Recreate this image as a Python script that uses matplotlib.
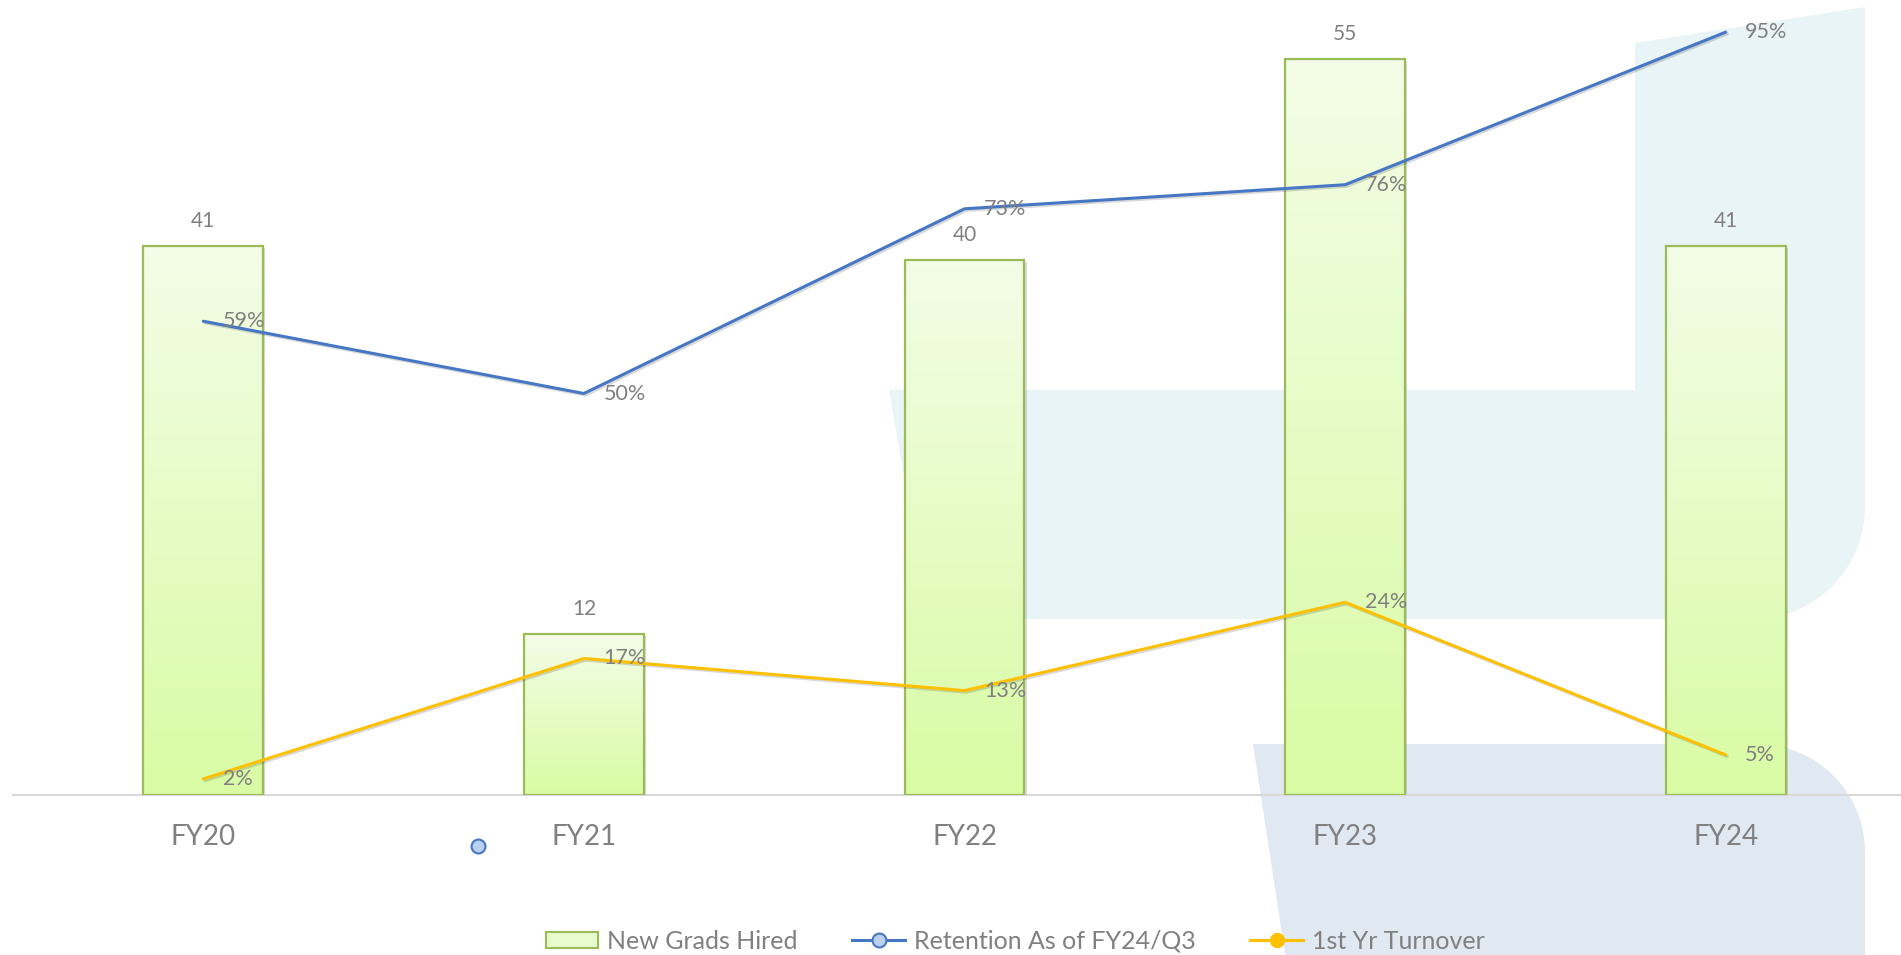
import numpy as np
import matplotlib
matplotlib.use("Agg")
from matplotlib import pyplot as plt
from matplotlib.patches import Polygon, Patch
from matplotlib.lines import Line2D
import matplotlib.patheffects as pe

plt.rcParams['font.family'] = ['Lato', 'DejaVu Sans']

years = ["FY20", "FY21", "FY22", "FY23", "FY24"]
new_grads = [41, 12, 40, 55, 41]
retention = [59, 50, 73, 76, 95]
turnover = [2, 17, 13, 24, 5]

W, H = 1901, 955
GRAY = "#808080"
BLUE = "#4677c4"
GOLD = "#ffc000"

fig = plt.figure(figsize=(W / 100, H / 100), dpi=100)


def to_fig(pts):
    pts = np.asarray(pts, dtype=float)
    return np.column_stack([pts[:, 0] / W, 1 - pts[:, 1] / H])


# faint logo watermark behind the chart
t = np.linspace(0, np.pi / 2, 30)
upper = [(889, 390), (1635, 390), (1635, 43), (1865, 7), (1865, 507)]
upper += list(zip(1753 + 112 * np.cos(t), 507 + 112 * np.sin(t)))
upper += [(929, 619)]
lower = [(1253, 744)]
lower += list(zip(1757 + 108 * np.sin(t), 852 - 108 * np.cos(t)))
lower += [(1865, 960), (1286, 960)]
fig.patches.append(Polygon(to_fig(upper), closed=True, transform=fig.transFigure,
                           facecolor="#e8f4f6", edgecolor="none", zorder=-5))
fig.patches.append(Polygon(to_fig(lower), closed=True, transform=fig.transFigure,
                           facecolor="#e0e8f2", edgecolor="none", zorder=-5))

ax = fig.add_axes([13 / W, 160 / H, 1903 / W, 803 / H])
ax.patch.set_alpha(0)
x = np.arange(len(years))

bars = ax.bar(x, new_grads, width=0.315, color="#d9fba4", edgecolor="none", zorder=2,
              path_effects=[pe.SimplePatchShadow(offset=(1.5, -1.5), shadow_rgbFace="#888888", alpha=0.3),
                            pe.Normal()])
grad = np.linspace(0, 1, 256).reshape(-1, 1)
cmap = matplotlib.colors.LinearSegmentedColormap.from_list("g", ["#d9fba4", "#f3fde7"])
for b in bars:
    im = ax.imshow(grad, cmap=cmap, origin="lower", aspect="auto", zorder=2.5,
                   extent=[b.get_x(), b.get_x() + b.get_width(), 0, b.get_height()])
    im.set_clip_path(b)
ax.bar(x, new_grads, width=0.315, facecolor="none", edgecolor="#9bbb59", linewidth=1.6, zorder=3)

for xi, v in zip(x, new_grads):
    ax.annotate(str(v), (xi, v), xytext=(0, 18), textcoords="offset points",
                ha="center", va="center", fontsize=15, color=GRAY, zorder=6)

ax.set_xlim(-0.5, 4.5)
ax.set_ylim(0, 60)
ax.set_xticks(x, years)
ax.tick_params(axis="x", length=0, pad=21, labelsize=20, labelcolor=GRAY)
ax.set_yticks([])
for s in ["top", "left", "right"]:
    ax.spines[s].set_visible(False)
ax.spines["bottom"].set_color("#d9d9d9")
ax.spines["bottom"].set_linewidth(1.5)

ax2 = ax.twinx()
ax2.set_ylim(0, 100)
ax2.set_yticks([])
for s in ax2.spines.values():
    s.set_visible(False)

shadow = [pe.SimpleLineShadow(offset=(1.2, -1.2), alpha=0.15), pe.Normal()]
ax2.plot(x, retention, color=BLUE, lw=2.2, solid_capstyle="round", path_effects=shadow, zorder=4)
ax2.plot(x, turnover, color=GOLD, lw=2.2, solid_capstyle="round", path_effects=shadow, zorder=4)
for series in (retention, turnover):
    for xi, v in zip(x, series):
        ax2.annotate(f"{v}%", (xi, v), xytext=(14, 0), textcoords="offset points",
                     ha="left", va="center", fontsize=15.5, color=GRAY, zorder=6)

# stray legend marker left over in the source picture
fig.add_artist(Line2D([478 / W], [1 - 846 / H], transform=fig.transFigure, marker="o",
                      markersize=10, markerfacecolor="#b9d0f0", markeredgecolor=BLUE,
                      markeredgewidth=1.5, linestyle="none"))

handles = [
    Patch(facecolor="#e8fbcc", edgecolor="#9bbb59", linewidth=1.5),
    Line2D([], [], color=BLUE, lw=2.2, marker="o", markersize=10,
           markerfacecolor="#b9d0f0", markeredgecolor=BLUE, markeredgewidth=1.5),
    Line2D([], [], color=GOLD, lw=2.2, marker="o", markersize=10,
           markerfacecolor=GOLD, markeredgecolor=GOLD),
]
labels = ["New Grads Hired", "Retention As of FY24/Q3", "1st Yr Turnover"]
leg = fig.legend(handles, labels, loc="center", bbox_to_anchor=(1015 / W, 1 - 941 / H),
                 ncol=3, frameon=False, fontsize=18, handlelength=2.1, handleheight=0.6,
                 handletextpad=0.35, columnspacing=2.2, labelcolor=GRAY)

fig.savefig("out.png", dpi=100)
